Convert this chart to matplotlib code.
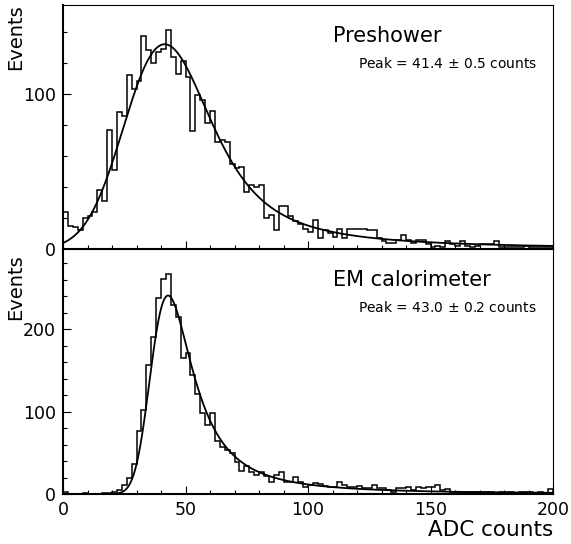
import numpy as np
import matplotlib
matplotlib.use("Agg")
import matplotlib.pyplot as plt
from matplotlib.ticker import MultipleLocator

# histogram contents, 2 ADC counts per bin, 0..200
bin_edges = np.arange(0, 202, 2)

preshower_counts = [
    24, 15, 14, 12, 20, 21, 24, 38, 31, 77,
    51, 88, 86, 112, 103, 108, 137, 128, 120, 127,
    129, 141, 124, 113, 121, 111, 76, 99, 96, 81,
    89, 69, 70, 69, 55, 52, 53, 37, 41, 40,
    41, 20, 22, 12, 28, 28, 21, 18, 16, 13,
    11, 19, 7, 12, 10, 8, 13, 7, 13, 13,
    13, 13, 12, 12, 7, 5, 4, 4, 6, 9,
    6, 4, 6, 6, 3, 1, 2, 1, 5, 3,
    2, 5, 2, 1, 2, 3, 3, 3, 5, 1,
    1, 1, 1, 1, 2, 1, 1, 1, 1, 1]

emcal_counts = [
    2, 0, 0, 0, 1, 0, 0, 0, 1, 1,
    2, 5, 11, 19, 37, 76, 102, 157, 191, 238,
    261, 267, 230, 215, 165, 171, 145, 122, 98, 84,
    98, 64, 57, 53, 50, 39, 28, 34, 27, 23,
    27, 22, 15, 23, 27, 15, 14, 21, 14, 9,
    11, 13, 12, 10, 9, 9, 15, 11, 9, 9,
    10, 7, 7, 11, 7, 7, 5, 3, 7, 7,
    9, 5, 9, 7, 8, 9, 11, 5, 6, 3,
    3, 2, 3, 2, 3, 3, 2, 2, 1, 3,
    2, 2, 1, 2, 2, 2, 1, 2, 1, 6]

# Landau (x) Gaussian fit parameters: peak position, peak height, landau width, gauss sigma
preshower_fit = (41.4, 132.0, 6.0, 13.0)
emcal_fit = (43.0, 241.0, 4.5, 4.0)

preshower_label = "Peak = 41.4 $\\pm$ 0.5 counts"
emcal_label = "Peak = 43.0 $\\pm$ 0.2 counts"


def landau(lam):
    t = np.linspace(1e-6, 25, 5000)
    integ = np.exp(-np.pi * t / 2) * np.cos(np.outer(lam, t) + t * np.log(t))
    return np.trapezoid(integ, t, axis=1) / np.pi


def fit_curve(peak, height, width, sigma):
    dx = 0.25
    x = np.arange(-80, 280, dx)
    y = landau(x / width)
    k = np.arange(-5 * sigma, 5 * sigma + dx, dx)
    kern = np.exp(-0.5 * (k / sigma) ** 2)
    y = np.convolve(y, kern / kern.sum(), mode="same")
    x = x + (peak - x[np.argmax(y)])
    y = y / y.max() * height
    keep = (x >= 0) & (x <= 200)
    return x[keep], y[keep]


fig = plt.figure(figsize=(5.71, 5.44), dpi=100)
ax1 = fig.add_axes([63 / 571, 1 - 249 / 544, 490 / 571, 244 / 544])
ax2 = fig.add_axes([63 / 571, 1 - 494 / 544, 490 / 571, 245 / 544], sharex=ax1)

panels = [
    (ax1, preshower_counts, preshower_fit, "Preshower", preshower_label, 157.3),
    (ax2, emcal_counts, emcal_fit, "EM calorimeter", emcal_label, 297.5),
]

for ax, counts, fit, name, label, ytop in panels:
    ax.stairs(counts, bin_edges, color="black", lw=1.1)
    fx, fy = fit_curve(*fit)
    ax.plot(fx, fy, color="black", lw=1.3)
    ax.set_xlim(0, 200)
    ax.set_ylim(0, ytop)
    ax.xaxis.set_major_locator(MultipleLocator(50))
    ax.xaxis.set_minor_locator(MultipleLocator(10))
    ax.yaxis.set_major_locator(MultipleLocator(100))
    ax.yaxis.set_minor_locator(MultipleLocator(20))
    ax.tick_params(which="both", direction="in", top=False, right=False,
                   labelsize=12.5, width=0.8)
    ax.tick_params(which="major", length=6, pad=5)
    ax.tick_params(which="minor", length=3)
    for s in ["left", "bottom"]:
        ax.spines[s].set_linewidth(1.5)
    for s in ["top", "right"]:
        ax.spines[s].set_linewidth(0.8)
    ax.text(0.551, 0.873, name, transform=ax.transAxes, fontsize=15,
            ha="left", va="center")
    ax.text(0.602, 0.762, label, transform=ax.transAxes, fontsize=10,
            ha="left", va="center")

ax1.tick_params(labelbottom=False)

fig.text(16 / 571, 1 - 37 / 544, "Events", rotation=90, fontsize=14,
         ha="center", va="center")
fig.text(16 / 571, 1 - 287 / 544, "Events", rotation=90, fontsize=14,
         ha="center", va="center")
fig.text(553 / 571, 1 - 530 / 544, "ADC counts", fontsize=15.5,
         ha="right", va="center")

fig.savefig("out.png", dpi=100)
